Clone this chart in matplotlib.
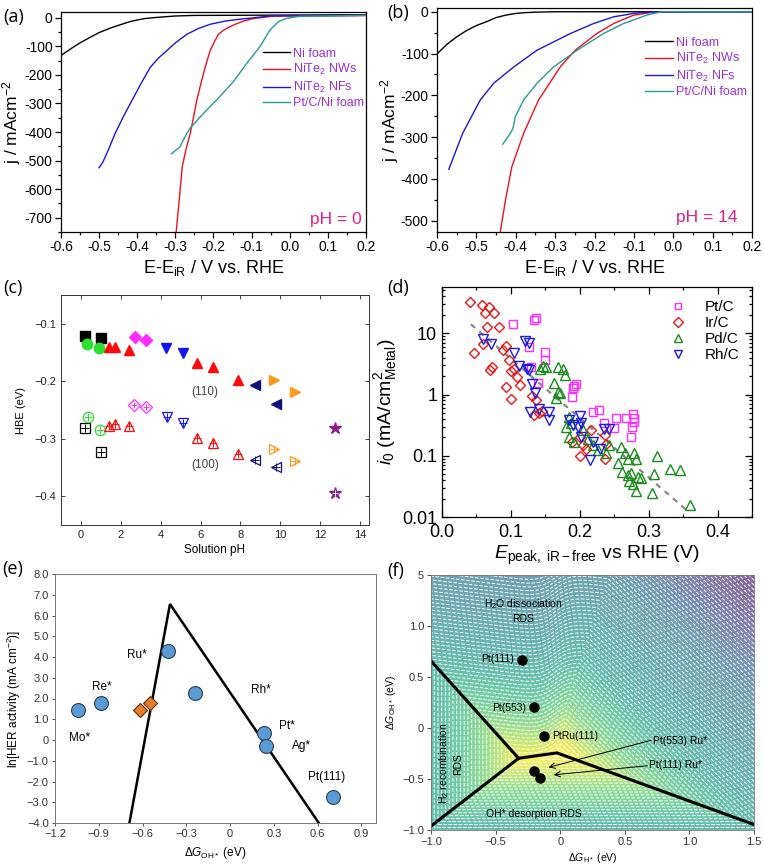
import numpy as np
import matplotlib
matplotlib.use("Agg")
import matplotlib.pyplot as plt
from matplotlib.ticker import MultipleLocator, FixedLocator, FixedFormatter, FuncFormatter, NullFormatter, LogLocator

plt.rcParams['font.family'] = ['Liberation Sans', 'DejaVu Sans']
plt.rcParams['mathtext.fontset'] = 'custom'
plt.rcParams['mathtext.rm'] = 'Liberation Sans'
plt.rcParams['mathtext.it'] = 'Liberation Sans:italic'
plt.rcParams['mathtext.bf'] = 'Liberation Sans:bold'
plt.rcParams['axes.unicode_minus'] = False

# ---------------- (a) LSV, pH = 0 ----------------
a_ni_x = [-0.6, -0.57, -0.55, -0.52, -0.5, -0.47, -0.45, -0.42, -0.4, -0.38, -0.35, -0.3, -0.25, 0.13, 0.2]
a_ni_j = [-132, -105, -88, -66, -52, -36, -27, -14, -8, -3, 1, 6, 8, 10, 10]
a_nw_x = [-0.298, -0.29, -0.282, -0.272, -0.261, -0.252, -0.244, -0.233, -0.222, -0.209, -0.197, -0.187,
          -0.174, -0.158, -0.143, -0.12, -0.095, -0.07, -0.04, 0.2]
a_nw_j = [-750, -640, -522, -460, -405, -345, -290, -230, -174, -116, -82, -58, -44, -32, -23, -11, -3, 1, 6, 8]
a_nf_x = [-0.5, -0.49, -0.475, -0.458, -0.436, -0.414, -0.39, -0.366, -0.345, -0.323, -0.3, -0.27, -0.24,
          -0.209, -0.17, -0.13, -0.1, -0.08, -0.05, 0.2]
a_nf_j = [-525, -505, -460, -405, -345, -290, -230, -174, -142, -116, -88, -58, -38, -23, -12, -5, -1, 2, 6, 8]
a_pt_x = [-0.31, -0.3, -0.288, -0.28, -0.27, -0.262, -0.235, -0.192, -0.148, -0.113, -0.078, -0.052, -0.03,
          -0.008, 0.027, 0.2]
a_pt_j = [-476, -465, -452, -430, -405, -388, -347, -288, -224, -160, -101, -43, -14, -2, 5, 8]

# ---------------- (b) LSV, pH = 14 ----------------
b_ni_x = [-0.6, -0.575, -0.55, -0.525, -0.5, -0.475, -0.45, -0.425, -0.4, -0.375, -0.35, -0.3, 0.2]
b_ni_j = [-101, -78, -60, -45, -33, -24, -14, -8, -4, -2, -1, 0, 0]
b_nw_x = [-0.439, -0.426, -0.41, -0.38, -0.342, -0.287, -0.249, -0.194, -0.151, -0.1, -0.05, 0.0, 0.2]
b_nw_j = [-526, -450, -371, -291, -211, -132, -92, -52, -28, -8, -1, 0, 0]
b_nf_x = [-0.57, -0.535, -0.49, -0.456, -0.405, -0.346, -0.261, -0.202, -0.151, -0.1, -0.07, 0.2]
b_nf_j = [-377, -291, -211, -171, -132, -92, -52, -28, -12, -4, -1, 0]
b_pt_x = [-0.433, -0.414, -0.407, -0.401, -0.38, -0.346, -0.304, -0.244, -0.177, -0.126, -0.067, -0.03, 0.2]
b_pt_j = [-317, -291, -279, -251, -211, -171, -132, -92, -52, -28, -8, 0, 0]

lsv_labels = ["Ni foam", "NiTe$_2$ NWs", "NiTe$_2$ NFs", "Pt/C/Ni foam"]
lsv_colors = ["black", "#e8141c", "#1a1ad6", "#2a9a90"]

# ---------------- (c) HBE vs pH ----------------
# series: (color, marker, pH(110), HBE(110), pH(100), HBE(100))
c_series = [
    ("black", "s", [0.2, 1.02], [-0.121, -0.125], [0.2, 1.02], [-0.281, -0.323]),
    ("#2ee02e", "o", [0.32, 0.93], [-0.136, -0.142], [0.35, 0.95], [-0.262, -0.284]),
    ("#ff0a0a", "^", [1.4, 1.73, 2.4, 5.81, 6.64, 7.89], [-0.140, -0.140, -0.145, -0.169, -0.176, -0.197],
     [1.4, 1.73, 2.4, 5.81, 6.64, 7.89], [-0.277, -0.275, -0.278, -0.299, -0.307, -0.327]),
    ("#ff2eff", "D", [2.7, 3.28], [-0.123, -0.128], [2.65, 3.28], [-0.242, -0.245]),
    ("#1515f0", "v", [4.28, 5.14], [-0.142, -0.151], [4.31, 5.11], [-0.262, -0.273]),
    ("#10107a", "<", [8.73, 9.78], [-0.207, -0.240], [8.73, 9.78], [-0.337, -0.349]),
    ("#ff9a1f", ">", [9.68, 10.72], [-0.197, -0.218], [9.68, 10.72], [-0.318, -0.338]),
    ("#8a1f8a", "*", [12.76], [-0.281], [12.76], [-0.395]),
]

# ---------------- (d) i0 vs E_peak ----------------
d_pt_E = [0.103, 0.133, 0.136, 0.127, 0.129, 0.149, 0.150, 0.139, 0.188, 0.19, 0.192, 0.195, 0.219, 0.228,
          0.235, 0.253, 0.25, 0.267, 0.277, 0.278, 0.278, 0.276, 0.274]
d_pt_i = [14.4, 16.3, 18.1, 5.9, 2.8, 4.9, 3.7, 1.57, 0.92, 1.28, 1.4, 1.5, 0.51, 0.55,
          0.34, 0.41, 0.28, 0.41, 0.48, 0.41, 0.35, 0.29, 0.20]
d_ir_E = [0.041, 0.058, 0.062, 0.068, 0.076, 0.066, 0.083, 0.046, 0.059, 0.069, 0.072, 0.093, 0.089, 0.097,
          0.1, 0.105, 0.109, 0.113, 0.093, 0.10, 0.131, 0.137, 0.133, 0.141, 0.145, 0.2, 0.204, 0.201,
          0.209, 0.216, 0.236, 0.238, 0.237, 0.189]
d_ir_i = [32, 29.5, 21.5, 27, 21.5, 12.7, 12.7, 4.7, 6.7, 2.5, 2.8, 6.1, 5.4, 3.7,
          2.4, 2.6, 1.9, 1.44, 1.35, 0.83, 0.95, 0.82, 0.46, 0.49, 0.53, 0.20, 0.15, 0.10,
          0.13, 0.26, 0.22, 0.155, 0.09, 0.17]
d_pd_E = [0.142, 0.147, 0.151, 0.169, 0.175, 0.178, 0.162, 0.168, 0.171, 0.165, 0.185, 0.180, 0.187, 0.185,
          0.191, 0.204, 0.212, 0.219, 0.226, 0.238, 0.243, 0.255, 0.26, 0.265, 0.27, 0.279, 0.282, 0.262,
          0.27, 0.274, 0.272, 0.277, 0.281, 0.284, 0.289, 0.312, 0.308, 0.305, 0.331, 0.346, 0.36]
d_pd_i = [2.6, 2.96, 2.8, 2.8, 2.6, 2.1, 1.57, 1.1, 1.05, 0.87, 0.43, 0.30, 0.34, 0.20,
          0.17, 0.26, 0.19, 0.15, 0.124, 0.11, 0.15, 0.077, 0.14, 0.11, 0.089, 0.11, 0.09, 0.055,
          0.048, 0.052, 0.038, 0.035, 0.027, 0.045, 0.043, 0.1, 0.051, 0.025, 0.06, 0.059, 0.016]
d_rh_E = [0.060, 0.071, 0.12, 0.127, 0.105, 0.112, 0.124, 0.126, 0.131, 0.135, 0.128, 0.141, 0.156, 0.155,
          0.185, 0.19, 0.2, 0.202, 0.197, 0.202, 0.219, 0.215, 0.229, 0.235, 0.242]
d_rh_i = [8.1, 6.8, 7.6, 6.9, 4.8, 2.9, 2.6, 2.5, 1.5, 1.05, 0.52, 0.58, 0.51, 0.38,
          0.39, 0.32, 0.44, 0.34, 0.30, 0.2, 0.17, 0.085, 0.13, 0.27, 0.27]
d_fit_E = [0.042, 0.355]
d_fit_i = [14.0, 0.013]

# ---------------- (e) volcano ----------------
e_circ_x = [-1.044, -0.882, -0.424, -0.239, 0.23, 0.246, 0.705]
e_circ_y = [1.46, 1.78, 4.3, 2.28, 0.36, -0.296, -2.74]
e_diam_x = [-0.62, -0.546]
e_diam_y = [1.46, 1.78]
e_line_x = [-0.69, -0.412, 0.608]
e_line_y = [-4.0, 6.55, -4.0]
e_names = ["Mo*", "Re*", "Ru*", "Rh*", "Pt*", "Ag*", "Pt(111)"]
e_name_x = [-1.03, -0.88, -0.64, 0.21, 0.39, 0.49, 0.66]
e_name_y = [0.1, 2.55, 4.1, 2.43, 0.67, -0.3, -1.77]

# ---------------- (f) 2D activity map ----------------
f_pts_x = [-0.296, -0.201, -0.129, -0.201, -0.155]
f_pts_y = [0.668, 0.203, -0.076, -0.421, -0.487]
f_b1_x, f_b1_y = [-1.0, -0.322], [0.658, -0.297]
f_b2_x, f_b2_y = [-1.0, -0.322], [-0.962, -0.297]
f_b3_x, f_b3_y = [-0.322, -0.026, 1.5], [-0.297, -0.244, -0.946]

W, H = 764, 868
fig = plt.figure(figsize=(W / 100, H / 100), dpi=100)


def box(x0, y0, x1, y1):
    return fig.add_axes([x0 / W, 1 - y1 / H, (x1 - x0) / W, (y1 - y0) / H])


def fmt1(v, p):
    return f"{round(v, 3) + 0.0:.1f}"


def lsv_panel(ax, curves, ylim, ph_text, ph_pos, leg_anchor, ylab_x):
    for (x, j), c, lab in zip(curves, lsv_colors, lsv_labels):
        ax.plot(x, j, color=c, lw=1.0, label=lab)
    ax.set_xlim(-0.6, 0.2)
    ax.set_ylim(*ylim)
    ax.xaxis.set_major_locator(MultipleLocator(0.1))
    ax.xaxis.set_minor_locator(MultipleLocator(0.05))
    ax.yaxis.set_major_locator(MultipleLocator(100))
    ax.yaxis.set_minor_locator(MultipleLocator(50))
    ax.xaxis.set_major_formatter(FuncFormatter(fmt1))
    ax.tick_params(which='both', direction='out', labelsize=10, width=0.9, pad=2)
    ax.tick_params(which='major', length=4)
    ax.tick_params(which='minor', length=2)
    for s in ax.spines.values():
        s.set_linewidth(0.9)
    ax.set_xlabel("E-E$_{\\mathrm{iR}}$ / V vs. RHE", fontsize=13, labelpad=3)
    ax.set_ylabel("j / mAcm$^{-2}$", fontsize=12.5)
    ax.yaxis.set_label_coords(ylab_x, 0.5)
    ax.text(ph_pos[0], ph_pos[1], ph_text, transform=ax.transAxes, ha='right', va='center',
            color='#e0208a', fontsize=12.5)
    leg = ax.legend(loc='upper left', bbox_to_anchor=leg_anchor, frameon=False, fontsize=9,
                    handlelength=2.2, handletextpad=0.25, labelspacing=0.2, borderaxespad=0)
    for t in leg.get_texts():
        t.set_color('#9a2fd6')


# (a)
ax = box(61, 12, 366, 232)
lsv_panel(ax, [(a_ni_x, a_ni_j), (a_nw_x, a_nw_j), (a_nf_x, a_nf_j), (a_pt_x, a_pt_j)],
          (-750, 20), "pH = 0", (0.985, 0.055), (0.645, 0.86), -0.125)

# (b)
ax = box(437, 8, 752, 232)
lsv_panel(ax, [(b_ni_x, b_ni_j), (b_nw_x, b_nw_j), (b_nf_x, b_nf_j), (b_pt_x, b_pt_j)],
          (-527, 9), "pH = 14", (0.955, 0.065), (0.645, 0.895), -0.115)

# (c)
ax = box(61, 295, 369, 525)
for col, mk, x1, y1, x2, y2 in c_series:
    ms = 9 if mk == '*' else 7.5
    if mk == 'D':
        ms = 6.5
    ax.plot(x1, y1, ls='none', marker=mk, color=col, ms=ms, mec=col)
    if mk == '*':
        ax.plot(x2, y2, ls='none', marker=mk, color=col, ms=ms, mec=col)
        ax.plot(x2, y2, ls='none', marker='+', color='white', ms=4, mew=0.6)
    else:
        ax.plot(x2, y2, ls='none', marker=mk, mfc='none', mec=col, ms=ms, mew=0.9)
        ax.plot(x2, y2, ls='none', marker='+', color=col, ms=ms * 0.75, mew=0.7)
ax.text(6.2, -0.218, "(110)", fontsize=8.5, color='#444444', ha='center', va='center')
ax.text(6.25, -0.345, "(100)", fontsize=8.5, color='#444444', ha='center', va='center')
ax.set_xlim(-1, 14.45)
ax.set_ylim(-0.45, -0.05)
ax.xaxis.set_major_locator(MultipleLocator(2))
ax.yaxis.set_major_locator(FixedLocator([-0.1, -0.2, -0.3, -0.4]))
ax.yaxis.set_major_formatter(FixedFormatter(["\u22120.1", "\u22120.2", "\u22120.3", "\u22120.4"]))
ax.tick_params(direction='in', top=True, right=True, labelsize=8, length=3, width=0.6, colors='#222222')
for s in ax.spines.values():
    s.set_linewidth(0.7)
    s.set_color('#333333')
ax.set_xlabel("Solution pH", fontsize=8.5, labelpad=3)
ax.set_ylabel("HBE (eV)", fontsize=8, labelpad=6)

# (d)
ax = box(442, 287, 752, 517)
ax.plot(d_fit_E, d_fit_i, ls=(0, (2.5, 2.5)), color='#888888', lw=1.6, zorder=1)
ax.plot(d_pt_E, d_pt_i, ls='none', marker='s', mfc='none', mec='#ff2eff', ms=5.5, mew=1.0, label='Pt/C')
ax.plot(d_ir_E, d_ir_i, ls='none', marker='D', mfc='none', mec='#e51a1a', ms=5.5, mew=1.0, label='Ir/C')
ax.plot(d_pd_E, d_pd_i, ls='none', marker='^', mfc='none', mec='#1c8a1c', ms=7, mew=1.0, label='Pd/C')
ax.plot(d_rh_E, d_rh_i, ls='none', marker='v', mfc='none', mec='#1a1ae0', ms=7, mew=1.0, label='Rh/C')
ax.set_yscale('log')
ax.set_xlim(0, 0.45)
ax.set_ylim(0.01, 57)
ax.xaxis.set_major_locator(MultipleLocator(0.1))
ax.xaxis.set_minor_locator(MultipleLocator(0.05))
ax.xaxis.set_major_formatter(FuncFormatter(fmt1))
ax.yaxis.set_major_locator(FixedLocator([0.01, 0.1, 1, 10]))
ax.yaxis.set_major_formatter(FixedFormatter(["0.01", "0.1", "1", "10"]))
ax.yaxis.set_minor_locator(LogLocator(base=10, subs=np.arange(2, 10)))
ax.yaxis.set_minor_formatter(NullFormatter())
ax.tick_params(which='both', direction='in', top=True, right=True, width=0.9)
ax.tick_params(which='major', length=5, labelsize=13)
ax.tick_params(which='minor', length=2.5)
ax.tick_params(axis='x', pad=5)
for s in ax.spines.values():
    s.set_linewidth(0.9)
ax.set_xlabel("$E_{\\mathrm{peak,\\ iR-free}}$ vs RHE (V)", fontsize=14, labelpad=2)
ax.set_ylabel("$i_0$ (mA/cm$^2_{\\mathrm{Metal}}$)", fontsize=14, labelpad=2)
ax.legend(loc='upper right', bbox_to_anchor=(1.0, 0.995), frameon=False, fontsize=11,
          handlelength=1.0, handletextpad=1.3, labelspacing=0.12, borderaxespad=0.4, markerscale=0.9)

# (e)
ax = box(55, 574, 376, 823)
ax.plot(e_line_x, e_line_y, color='black', lw=1.8, solid_joinstyle='miter', zorder=2)
ax.plot(e_circ_x, e_circ_y, ls='none', marker='o', mfc='#5b9bd5', mec='#2c3e55', ms=10, mew=0.8, zorder=3)
ax.plot(e_diam_x, e_diam_y, ls='none', marker='D', mfc='#e87d2a', mec='#5a3010', ms=7.5, mew=0.8, zorder=3)
for n, x, y in zip(e_names, e_name_x, e_name_y):
    ax.text(x, y, n, fontsize=8.5, ha='center', va='center')
ax.set_xlim(-1.2, 1.0)
ax.set_ylim(-4, 8)
e_xt = [-1.2, -0.9, -0.6, -0.3, 0, 0.3, 0.6, 0.9]
e_xl = ["\u22121.2", "\u22120.9", "\u22120.6", "\u22120.3", "0", "0.3", "0.6", "0.9"]
ax.xaxis.set_major_locator(FixedLocator(e_xt))
ax.xaxis.set_major_formatter(FixedFormatter(e_xl))
e_yt = list(range(-4, 9))
e_yl = [("0" if v == 0 else f"{v:.1f}".replace("-", "\u2212")) for v in e_yt]
ax.yaxis.set_major_locator(FixedLocator(e_yt))
ax.yaxis.set_major_formatter(FixedFormatter(e_yl))
ax.tick_params(direction='out', labelsize=8, length=2.5, width=0.6, colors='#333333', pad=2)
for s in ax.spines.values():
    s.set_linewidth(0.7)
    s.set_color('#777777')
ax.set_xlabel("$\\Delta G_{\\mathrm{OH*}}$ (eV)", fontsize=8.5, labelpad=4)
ax.set_ylabel("ln[HER activity (mA cm$^{-2}$)]", fontsize=8.5, labelpad=3)

# (f)
ax = box(431, 575, 754, 830)
gx = np.linspace(-1, 1.5, 500)
gy = np.linspace(-1, 1.5, 500)
GX, GY = np.meshgrid(gx, gy)
# piecewise-linear rate-limiting-step surface: H2 recombination / OH* desorption / H2O dissociation
h2o = -0.593 - 0.784 * GY - 0.118 * GX + 0.2 / (1 + np.exp(-(GX + 0.04) / 0.06))
f_rds = np.minimum.reduce([GX, GY, h2o, -0.4233 - 0.6026 * GY - 0.753 * GX])
shade = np.interp(f_rds, [-2.5, -1.7, -1.0, -0.6, -0.3], [0.02, 0.38, 0.55, 0.75, 1.0])
ax.imshow(shade, extent=(-1, 1.5, -1, 1.5), origin='lower', aspect='auto', cmap='viridis',
          vmin=0, vmax=1, alpha=0.68, interpolation='bilinear')
ax.contour(GX, GY, f_rds, levels=np.linspace(-2.6, -0.25, 82), colors='white', linewidths=0.7)
ax.plot(f_b1_x, f_b1_y, color='black', lw=2.2)
ax.plot(f_b2_x, f_b2_y, color='black', lw=2.2)
ax.plot(f_b3_x, f_b3_y, color='black', lw=2.2)
ax.plot(f_pts_x, f_pts_y, ls='none', marker='o', color='black', ms=6.5)
ax.text(-0.36, 0.68, "Pt(111)", fontsize=7.5, ha='right', va='center')
ax.text(-0.265, 0.2, "Pt(553)", fontsize=7.5, ha='right', va='center')
ax.text(-0.065, -0.08, "PtRu(111)", fontsize=7.5, ha='left', va='center')
ax.text(0.72, -0.125, "Pt(553) Ru*", fontsize=7.5, ha='left', va='center')
ax.text(0.69, -0.36, "Pt(111) Ru*", fontsize=7.5, ha='left', va='center')
ax.annotate("", xy=(-0.09, -0.386), xytext=(0.705, -0.12),
            arrowprops=dict(arrowstyle='->', lw=0.7, color='black', shrinkA=0, shrinkB=0))
ax.annotate("", xy=(-0.05, -0.459), xytext=(0.675, -0.37),
            arrowprops=dict(arrowstyle='->', lw=0.7, color='black', shrinkA=0, shrinkB=0))
ax.text(-0.285, 1.15, "H$_2$O dissociation\nRDS", fontsize=7.5, ha='center', va='center', linespacing=1.3)
ax.text(-0.85, -0.35, "H$_2$ recombination\nRDS", fontsize=7.5, ha='center', va='center', rotation=90,
        linespacing=1.3)
ax.text(-0.2, -0.845, "OH* desorption RDS", fontsize=7.5, ha='center', va='center')
ax.set_xlim(-1, 1.5)
ax.set_ylim(-1, 1.5)
ax.xaxis.set_major_locator(FixedLocator([-1.0, -0.5, 0, 0.5, 1.0, 1.5]))
ax.xaxis.set_major_formatter(FixedFormatter(["\u22121.0", "\u22120.5", "0", "0.5", "1.0", "1.5"]))
ax.yaxis.set_major_locator(FixedLocator([-1.0, -0.5, 0, 0.5, 1.0, 1.5]))
ax.yaxis.set_major_formatter(FixedFormatter(["\u22121.0", "\u22120.5", "0", "0.5", "1.0", "5"]))
ax.tick_params(direction='out', labelsize=8, length=3, width=0.6, colors='#333333', pad=2)
for s in ax.spines.values():
    s.set_linewidth(0.6)
    s.set_color('#777777')
ax.set_xlabel("$\\Delta G_{\\mathrm{H*}}$ (eV)", fontsize=7.5, labelpad=3)
ax.set_ylabel("$\\Delta G_{\\mathrm{OH*}}$ (eV)", fontsize=7.5, labelpad=3)

# panel letters
for lab, px, py in [("(a)", 3, 17), ("(b)", 387, 13), ("(c)", 3, 288), ("(d)", 387, 288),
                    ("(e)", 2, 569), ("(f)", 387, 571)]:
    fig.text(px / W, 1 - py / H, lab, fontsize=13, ha='left', va='center', family='Open Sans')

fig.savefig("out.png", dpi=100)
